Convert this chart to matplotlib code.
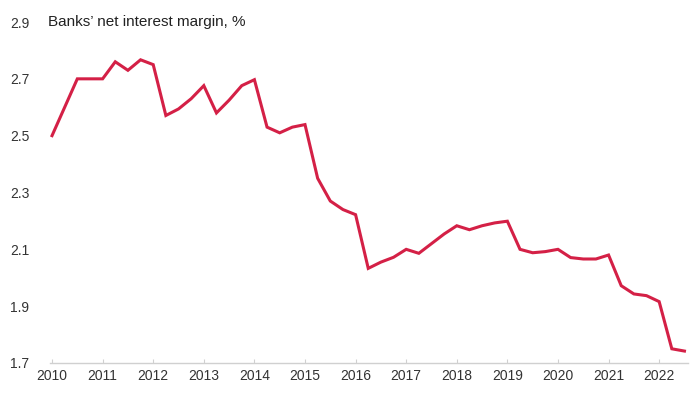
import matplotlib
matplotlib.use("Agg")
import matplotlib.pyplot as plt
import numpy as np

plt.rcParams['font.family'] = ['Liberation Sans', 'DejaVu Sans']

start_year = 2010.0
step = 0.25
nim = [2.50, 2.60, 2.70, 2.70, 2.70, 2.76, 2.73, 2.767, 2.75,
       2.571, 2.594, 2.63, 2.676, 2.58, 2.625, 2.676, 2.697,
       2.53, 2.51, 2.53, 2.539, 2.35, 2.27, 2.24, 2.222,
       2.033, 2.055, 2.072, 2.10, 2.086, 2.12, 2.154, 2.183,
       2.169, 2.183, 2.193, 2.199, 2.10, 2.088, 2.092, 2.10,
       2.071, 2.066, 2.066, 2.08, 1.972, 1.943, 1.937, 1.916,
       1.75, 1.742]
years = [2010, 2011, 2012, 2013, 2014, 2015, 2016, 2017, 2018, 2019, 2020, 2021, 2022]
yticks = [1.7, 1.9, 2.1, 2.3, 2.5, 2.7, 2.9]
title = "Banks\u2019 net interest margin, %"

x = start_year + step * np.arange(len(nim))

fig = plt.figure(figsize=(7, 3.94), dpi=100)
ax = fig.add_axes([50/700, 1-363/394, (688-50)/700, (363-22)/394])
ax.plot(x, nim, color='#D42046', lw=2.2, solid_joinstyle='miter')
ax.set_xlim(2009.96, 2022.57)
ax.set_ylim(1.7, 2.9)
ax.set_xticks(years)
ax.set_xticklabels([str(y) for y in years])
ax.set_yticks(yticks)
ax.set_yticklabels([f"{v:.1f}" for v in yticks])
for s in ['top', 'right', 'left']:
    ax.spines[s].set_visible(False)
ax.spines['bottom'].set_color('#d0d0d0')
ax.spines['bottom'].set_linewidth(1.0)
ax.tick_params(axis='x', colors='#d0d0d0', labelcolor='#333333', labelsize=10, length=3, direction='in', pad=4)
ax.tick_params(axis='y', length=0, labelcolor='#333333', labelsize=10, pad=15)
ax.text(-0.003, 2.9, title, transform=ax.get_yaxis_transform(), ha='left', va='center',
        fontsize=11, color='#222222')
fig.savefig('out.png', dpi=100)
